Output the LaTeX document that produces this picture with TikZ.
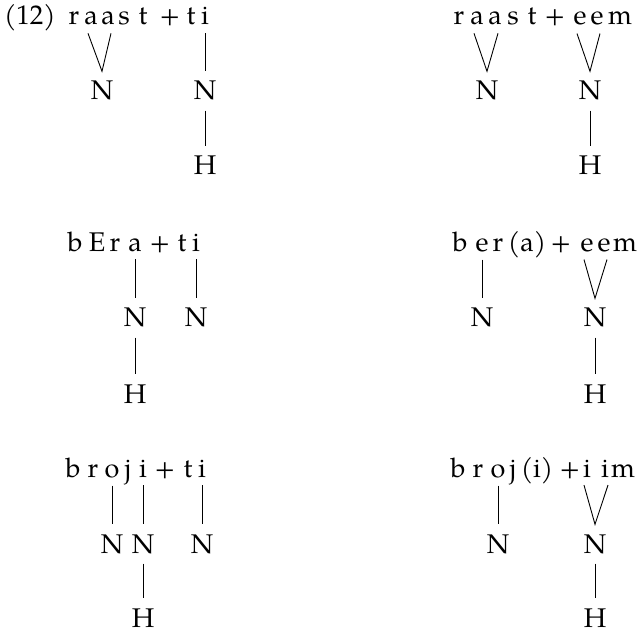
\documentclass[tikz,border=0pt]{standalone}
\usepackage{fontspec}
\setmainfont{TeX Gyre Pagella}
\begin{document}
\begin{tikzpicture}[x=0.5pt,y=-0.5pt,
  font=\fontsize{13.5}{16}\selectfont,
  seg/.style={anchor=base,inner sep=0pt,outer sep=4pt},
  lab/.style={anchor=base,inner sep=0pt,outer sep=5pt},
  assoc/.style={line width=0.45pt}]
\useasboundingbox (0,0) rectangle (638,631);

% ---------- raast + ti ----------
\node[seg] (ex) at (30,25) {(12)};
\node[seg] (A1) at (74,25) {r};
\node[seg] (A2) at (91,25) {a};
\node[seg] (A3) at (108,25) {a};
\node[seg] (A4) at (124,25) {s};
\node[seg] (A5) at (143,25) {t};
\node[seg] (A6) at (170,25) {+};
\node[seg] (A7) at (191,25) {t};
\node[seg] (A8) at (205,25) {i};
\node[lab] (AN1) at (102,100) {N};
\node[lab] (AN2) at (205,100) {N};
\node[lab] (AH) at (205,175) {H};
\draw[assoc] ([xshift=-1.5pt]A2.south) -- (AN1.north) -- ([xshift=1.5pt]A3.south);
\draw[assoc] (A8.south) -- (AN2.north);
\draw[assoc] (AN2.south) -- (AH.north);

% ---------- raast + eem ----------
\node[seg] (B1) at (459,25) {r};
\node[seg] (B2) at (477,25) {a};
\node[seg] (B3) at (495,25) {a};
\node[seg] (B4) at (513,25) {s};
\node[seg] (B5) at (532,25) {t};
\node[seg] (B6) at (555,25) {+};
\node[seg] (B7) at (580,25) {e};
\node[seg] (B8) at (597,25) {e};
\node[seg] (B9) at (620,25) {m};
\node[lab] (BN1) at (487,100) {N};
\node[lab] (BN2) at (590,100) {N};
\node[lab] (BH) at (590,175) {H};
\draw[assoc] ([xshift=-1.5pt]B2.south) -- (BN1.north) -- ([xshift=1.5pt]B3.south);
\draw[assoc] ([xshift=-1.5pt]B7.south) -- (BN2.north) -- ([xshift=1.5pt]B8.south);
\draw[assoc] (BN2.south) -- (BH.north);

% ---------- bEra + ti ----------
\node[seg] (C1) at (75,251) {b};
\node[seg] (C2) at (97,251) {E};
\node[seg] (C3) at (115,251) {r};
\node[seg] (C4) at (135,251) {a};
\node[seg] (C5) at (160,251) {+};
\node[seg] (C6) at (182,251) {t};
\node[seg] (C7) at (196,251) {i};
\node[lab] (CN1) at (135,327) {N};
\node[lab] (CN2) at (196,327) {N};
\node[lab] (CH) at (135,403) {H};
\draw[assoc] (C4.south) -- (CN1.north);
\draw[assoc] (C7.south) -- (CN2.north);
\draw[assoc] (CN1.south) -- (CH.north);

% ---------- ber(a) + eem ----------
\node[seg] (D1) at (460,251) {b};
\node[seg] (D2) at (482,251) {e};
\node[seg] (D3) at (498,251) {r};
\node[seg] (D4) at (527,251) {(a)};
\node[seg] (D5) at (561,251) {+};
\node[seg] (D6) at (587,251) {e};
\node[seg] (D7) at (604,251) {e};
\node[seg] (D8) at (625,251) {m};
\node[lab] (DN1) at (482,327) {N};
\node[lab] (DN2) at (595,327) {N};
\node[lab] (DH) at (595,403) {H};
\draw[assoc] (D2.south) -- (DN1.north);
\draw[assoc] ([xshift=-1.5pt]D6.south) -- (DN2.north) -- ([xshift=1.5pt]D7.south);
\draw[assoc] (DN2.south) -- (DH.north);

% ---------- broji + ti ----------
\node[seg] (E1) at (73,477) {b};
\node[seg] (E2) at (93,477) {r};
\node[seg] (E3) at (112,477) {o};
\node[seg] (E4) at (128,477) {j};
\node[seg] (E5) at (143,477) {i};
\node[seg] (E6) at (165,477) {+};
\node[seg] (E7) at (188,477) {t};
\node[seg] (E8) at (202,477) {i};
\node[lab] (EN1) at (112,553) {N};
\node[lab] (EN2) at (143,553) {N};
\node[lab] (EN3) at (202,553) {N};
\node[lab] (EH) at (143,627) {H};
\draw[assoc] (E3.south) -- (EN1.north);
\draw[assoc] (E5.south) -- (EN2.north);
\draw[assoc] (E8.south) -- (EN3.north);
\draw[assoc] (EN2.south) -- (EH.north);

% ---------- broj(i) + iim ----------
\node[seg] (F1) at (458,477) {b};
\node[seg] (F2) at (478,477) {r};
\node[seg] (F3) at (498,477) {o};
\node[seg] (F4) at (513,477) {j};
\node[seg] (F5) at (537,477) {(i)};
\node[seg] (F6) at (570,477) {+};
\node[seg] (F7) at (587,477) {i};
\node[seg] (F8) at (605,477) {i};
\node[seg] (F9) at (623,477) {m};
\node[lab] (FN1) at (498,553) {N};
\node[lab] (FN2) at (595,553) {N};
\node[lab] (FH) at (595,627) {H};
\draw[assoc] (F3.south) -- (FN1.north);
\draw[assoc] ([xshift=-1.5pt]F7.south) -- (FN2.north) -- ([xshift=1.5pt]F8.south);
\draw[assoc] (FN2.south) -- (FH.north);
\end{tikzpicture}
\end{document}
